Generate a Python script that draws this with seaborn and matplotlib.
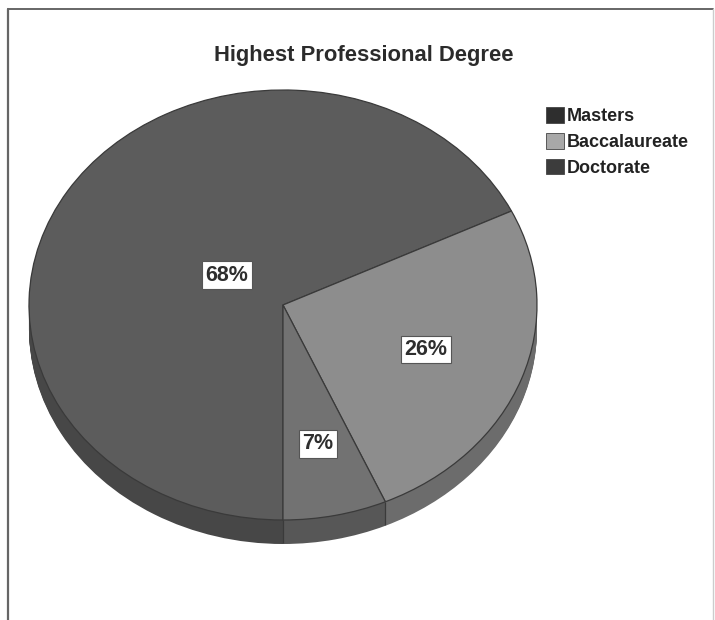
import numpy as np
import matplotlib
matplotlib.use('Agg')
import matplotlib.pyplot as plt
from matplotlib.lines import Line2D
import seaborn as sns

# degree shares, clockwise from 6 o'clock
degrees = ['Masters', 'Baccalaureate', 'Doctorate']
shares = [67.8, 25.6, 6.6]
title = 'Highest Professional Degree'

sns.set_theme(style='white')
plt.rcParams['font.family'] = ['Liberation Sans', 'DejaVu Sans']

top_colors = sns.color_palette(['#5c5c5c', '#8d8d8d', '#727272'])
side_colors = sns.color_palette(['#474747', '#6c6c6c', '#575757'])
label_radius = [0.26, 0.60, 0.66]

fig = plt.figure(figsize=(7.15, 6.2), dpi=100)
ax = fig.add_axes([0, 0, 1, 1])

# fake 3d: stack of darker pies under the top face
depth = 24 / 215
for d in np.linspace(depth, 0, 25)[:-1]:
    ax.pie(shares, colors=side_colors, startangle=270, counterclock=False,
           center=(0, -d), radius=1, wedgeprops={'linewidth': 0})

wedges, _, autotexts = ax.pie(shares, colors=top_colors, startangle=270,
                              counterclock=False, radius=1, autopct='%.0f%%',
                              wedgeprops={'linewidth': 0.9, 'edgecolor': '#3a3a3a'},
                              textprops={'fontsize': 15.5, 'fontweight': 'bold', 'color': '#2e2e2e'})

for wedge, text, r in zip(wedges, autotexts, label_radius):
    mid = np.deg2rad((wedge.theta1 + wedge.theta2) / 2)
    text.set_position((r * np.cos(mid), r * np.sin(mid)))
    text.set_bbox({'boxstyle': 'square,pad=0.16', 'facecolor': 'white',
                   'edgecolor': '#555555', 'linewidth': 0.8})

# seams on the side of the pie, only for the ones facing the viewer
for wedge in wedges:
    a = np.deg2rad(wedge.theta1)
    if np.sin(a) < 0:
        ax.plot([np.cos(a)] * 2, [np.sin(a), np.sin(a) - depth * 0.96], color='#3a3a3a',
                lw=0.9, solid_capstyle='butt')

ax.set_aspect('auto')
ax.set_xlim(-283 / 254, 432 / 254)
ax.set_ylim(-315 / 215, 305 / 215)
ax.axis('off')

fig.text(364 / 715, 1 - 56 / 620, title, ha='center', va='center',
         fontsize=15.8, fontweight='bold', color='#2b2b2b')

leg = ax.legend(wedges, degrees, loc='upper left', bbox_to_anchor=(541 / 715, 1 - 102 / 620),
                frameon=False, prop={'size': 13, 'weight': 'bold'}, labelcolor='#222222',
                handlelength=0.95, handleheight=0.95, handletextpad=0.2,
                labelspacing=0.42, borderpad=0.3, borderaxespad=0)
for handle, c in zip(leg.legend_handles, ['#2e2e2e', '#a8a8a8', '#3c3c3c']):
    handle.set_facecolor(c)
    handle.set_edgecolor('#444444')
    handle.set_linewidth(0.6)

# chart frame
fig.add_artist(Line2D([8 / 715, 8 / 715], [0, 1 - 9 / 620], color='#666666', lw=1.6))
fig.add_artist(Line2D([8 / 715, 713 / 715], [1 - 9 / 620, 1 - 9 / 620], color='#666666', lw=1.4))
fig.add_artist(Line2D([713 / 715, 713 / 715], [0, 1 - 9 / 620], color='#cccccc', lw=1))

fig.savefig('out.png', dpi=100, facecolor='white')
